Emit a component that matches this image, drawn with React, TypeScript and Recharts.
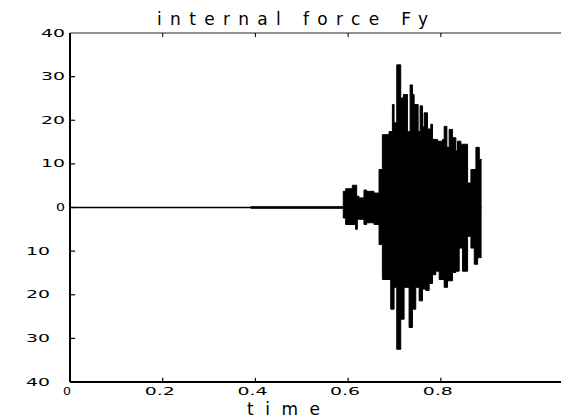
import React from 'react';
import { Area, ComposedChart, Line, ReferenceLine, XAxis, YAxis } from 'recharts';

// flat part of the signal before the burst
const baseTimes = [0, 0.5895];
const baseValues = [0, 0];

// upper envelope of the burst (step after each time)
const upperTimes = [
  0.39, 0.5895, 0.5946, 0.609, 0.6184, 0.6234, 0.6342, 0.64, 0.6559, 0.6667, 0.6739, 0.6883,
  0.6955, 0.6991, 0.7049, 0.7135, 0.7193, 0.7279, 0.7337, 0.7387, 0.7423, 0.751, 0.7553,
  0.7604, 0.764, 0.7712, 0.7784, 0.782, 0.7928, 0.8036, 0.8072, 0.813, 0.818, 0.8252, 0.8324,
  0.836, 0.8432, 0.8505, 0.8577, 0.8649, 0.8757, 0.8829, 0.8879,
];
const upperValues = [
  0.15, 3.7, 4.3, 5.1, 2.6, 2.2, 4.0, 3.7, 3.3, 8.7, 16.7, 17.4,
  23.6, 19.4, 32.7, 25.1, 25.9, 17.4, 28.1, 25.9, 23.6, 17.4, 23.3,
  18.5, 21.7, 18, 19.1, 15.6, 15.2, 15.6, 18.6, 13.8, 17.9, 16, 13,
  15.2, 14.5, 14.5, 5.6, 8.7, 13.8, 11, 11,
];

// lower envelope of the burst
const lowerTimes = [
  0.39, 0.5895, 0.5946, 0.6162, 0.6198, 0.6342, 0.64, 0.6559, 0.6667, 0.6739, 0.6919, 0.6991,
  0.7049, 0.7135, 0.7207, 0.7315, 0.7387, 0.7459, 0.7532, 0.7604, 0.7676, 0.7748, 0.782,
  0.7892, 0.7964, 0.8072, 0.8144, 0.8252, 0.8324, 0.8396, 0.8468, 0.8577, 0.8649, 0.8721,
  0.8793, 0.8879,
];
const lowerValues = [
  -0.15, -2.4, -3.9, -5, -2.7, -3.9, -3.5, -3.9, -8.5, -16.5, -23.3, -18.3,
  -32.5, -25.6, -18.3, -27.5, -23.3, -18.3, -21.4, -18.7, -19, -17.4, -15.4,
  -14.6, -16.5, -18.3, -16.8, -14.9, -14.6, -9.3, -14.6, -6.6, -9.3, -13,
  -11.5, -11.5,
];

const xTicks = [0, 0.2, 0.4, 0.6, 0.8];
const yTicks = [-40, -30, -20, -10, 0, 10, 20, 30, 40];
const X_MAX = 1.07;
const Y_MIN = -40;
const Y_MAX = 40;

const baseData = baseTimes.map((t, i) => ({ t, v: baseValues[i] }));
const upperData = upperTimes.map((t, i) => ({ t, v: upperValues[i] }));
const lowerData = lowerTimes.map((t, i) => ({ t, v: lowerValues[i] }));

const FONT = '"DejaVu Sans", sans-serif';

const LeftTick = (props: any) => {
  const { x, y, payload } = props;
  const v = payload.value as number;
  const label = String(Math.abs(v));
  const right = v < 0 ? x - 20 : x - 5;
  const w = label.length > 1 ? 24 : 9;
  return (
    <text
      x={right - w}
      y={y + 3.5}
      fontSize={10}
      fontFamily={FONT}
      fill="#000"
      textLength={w}
      lengthAdjust="spacingAndGlyphs"
    >
      {label}
    </text>
  );
};

const BottomTick = (props: any) => {
  const { x, y, payload } = props;
  const label = String(payload.value);
  const w = label.length > 1 ? 30 : 8;
  return (
    <text
      x={x - 3 - w / 2}
      y={y + 13}
      fontSize={10}
      fontFamily={FONT}
      fill="#000"
      textLength={w}
      lengthAdjust="spacingAndGlyphs"
    >
      {label}
    </text>
  );
};

// inward tick marks (in axis units)
const X_TICK_LEN = 0.011;
const Y_TICK_LEN = 0.95;
const innerX = xTicks.filter((t) => t > 0);
const innerY = yTicks.filter((v) => v > Y_MIN && v < Y_MAX);

const TOP = 1000;

export default function App() {
  return (
    <div
      style={{
        position: 'absolute',
        left: 0,
        top: 0,
        width: 561,
        height: 420,
        overflow: 'hidden',
        background: '#fff',
      }}
    >
      <ComposedChart width={600} height={420} margin={{ top: 33, right: 34, left: 30, bottom: 8 }}>
        <XAxis
          type="number"
          dataKey="t"
          domain={[0, X_MAX]}
          ticks={xTicks}
          tickSize={0}
          tickMargin={0}
          tickLine={false}
          tick={<BottomTick />}
          height={30}
          axisLine={{ stroke: '#000', strokeWidth: 2 }}
        />
        <YAxis
          type="number"
          domain={[Y_MIN, Y_MAX]}
          ticks={yTicks}
          tickSize={0}
          tickMargin={0}
          tickLine={false}
          tick={<LeftTick />}
          width={40}
          axisLine={{ stroke: '#000', strokeWidth: 2 }}
        />
        <Line
          data={baseData}
          dataKey="v"
          type="linear"
          stroke="#000"
          strokeWidth={1.5}
          dot={false}
          isAnimationActive={false}
        />
        <Area
          data={upperData}
          dataKey="v"
          type="stepAfter"
          baseValue={-0.2}
          stroke="#000"
          strokeWidth={1}
          fill="#000"
          fillOpacity={1}
          isAnimationActive={false}
        />
        <Area
          data={lowerData}
          dataKey="v"
          type="stepAfter"
          baseValue={0.2}
          stroke="#000"
          strokeWidth={1}
          fill="#000"
          fillOpacity={1}
          isAnimationActive={false}
        />
        <ReferenceLine x={0} stroke="#000" strokeWidth={2} ifOverflow="visible" zIndex={TOP} />
        <ReferenceLine y={Y_MAX} stroke="#222" strokeWidth={1} ifOverflow="visible" zIndex={TOP} />
        <ReferenceLine x={X_MAX} stroke="#222" strokeWidth={1} ifOverflow="visible" zIndex={TOP} />
        {innerX.map((t) => (
          <ReferenceLine
            key={`b${t}`}
            segment={[{ x: t, y: Y_MIN }, { x: t, y: Y_MIN + Y_TICK_LEN }]}
            stroke="#000"
            strokeWidth={1.2}
            ifOverflow="visible"
            zIndex={TOP}
          />
        ))}
        {innerX.map((t) => (
          <ReferenceLine
            key={`t${t}`}
            segment={[{ x: t, y: Y_MAX }, { x: t, y: Y_MAX - Y_TICK_LEN }]}
            stroke="#000"
            strokeWidth={1}
            ifOverflow="visible"
            zIndex={TOP}
          />
        ))}
        {innerY.map((v) => (
          <ReferenceLine
            key={`l${v}`}
            segment={[{ x: 0, y: v }, { x: X_TICK_LEN, y: v }]}
            stroke="#000"
            strokeWidth={1.2}
            ifOverflow="visible"
            zIndex={TOP}
          />
        ))}
        {innerY.map((v) => (
          <ReferenceLine
            key={`r${v}`}
            segment={[{ x: X_MAX, y: v }, { x: X_MAX - X_TICK_LEN, y: v }]}
            stroke="#000"
            strokeWidth={1}
            ifOverflow="visible"
            zIndex={TOP}
          />
        ))}
        <text
          x={157}
          y={25}
          fontSize={17}
          fontFamily={FONT}
          fill="#000"
          textLength={271}
          lengthAdjust="spacing"
        >
          internal force Fy
        </text>
        <text
          x={247}
          y={415}
          fontSize={17}
          fontFamily={FONT}
          fill="#000"
          textLength={73}
          lengthAdjust="spacing"
        >
          time
        </text>
      </ComposedChart>
    </div>
  );
}
